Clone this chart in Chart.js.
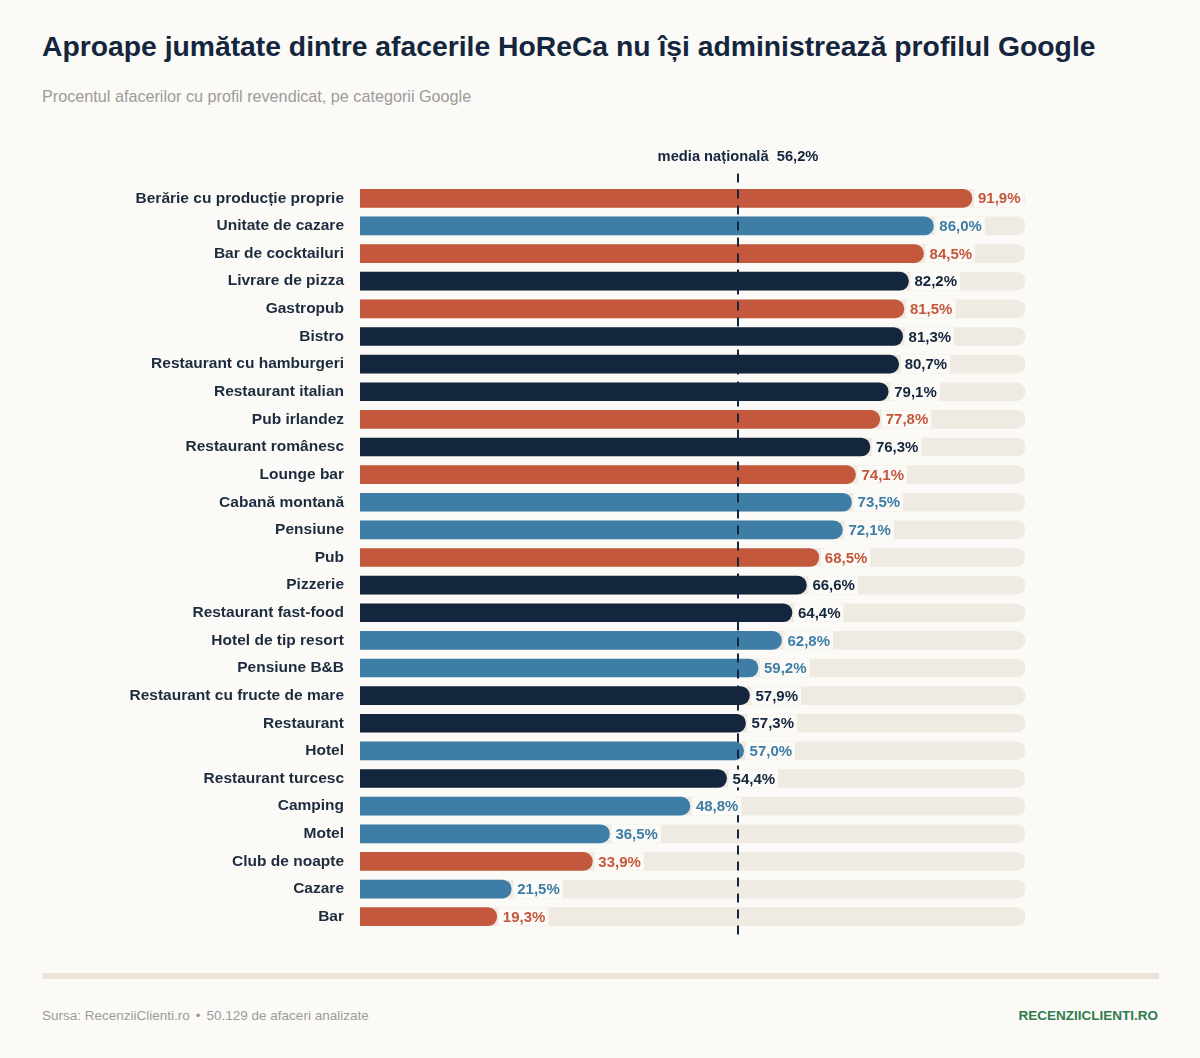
<!DOCTYPE html>
<html lang="ro">
<head>
<meta charset="utf-8">
<title>Profil Google HoReCa</title>
<script src="https://cdn.jsdelivr.net/npm/chart.js@4.4.1/dist/chart.umd.min.js"></script>
<style>
  html, body { margin: 0; padding: 0; background: #fbfaf6; }
  body {
    position: relative;
    width: 1200px;
    height: 1058px;
    overflow: hidden;
    font-family: "Liberation Sans", Arial, Helvetica, sans-serif;
  }
  h1 {
    position: absolute; left: 42px; top: 30px; margin: 0;
    font-size: 28.3px; font-weight: 700; color: #14263d; white-space: nowrap;
  }
  .sub {
    position: absolute; left: 42px; top: 87px;
    font-size: 16.2px; color: #9b9b9b; white-space: nowrap;
  }
  #wrap { position: absolute; left: 0; top: 130px; width: 1200px; height: 830px; }
  .rule { position: absolute; left: 42px; top: 973px; width: 1117px; height: 6px; background: #ebe5d9; }
  .foot { position: absolute; top: 1008px; font-size: 13.5px; white-space: nowrap; }
  .foot.left { left: 42px; color: #9b9b9b; }
  .foot.left .dot { margin: 0 6px; }
  .foot.right { right: 42px; color: #2f7a4f; font-weight: 700; }
</style>
</head>
<body>
<h1>Aproape jumătate dintre afacerile HoReCa nu își administrează profilul Google</h1>
<div class="sub">Procentul afacerilor cu profil revendicat, pe categorii Google</div>
<div id="wrap"><canvas id="chart" width="1200" height="830"></canvas></div>
<div class="rule"></div>
<div class="foot left">Sursa: RecenziiClienti.ro<span class="dot">•</span>50.129 de afaceri analizate</div>
<div class="foot right">RECENZIICLIENTI.RO</div>

<script>
// categorii Google, in ordinea din grafic
const categories = [
  'Berărie cu producție proprie', 'Unitate de cazare', 'Bar de cocktailuri',
  'Livrare de pizza', 'Gastropub', 'Bistro', 'Restaurant cu hamburgeri',
  'Restaurant italian', 'Pub irlandez', 'Restaurant românesc', 'Lounge bar',
  'Cabană montană', 'Pensiune', 'Pub', 'Pizzerie', 'Restaurant fast-food',
  'Hotel de tip resort', 'Pensiune B&B', 'Restaurant cu fructe de mare',
  'Restaurant', 'Hotel', 'Restaurant turcesc', 'Camping', 'Motel',
  'Club de noapte', 'Cazare', 'Bar'
];

// % afaceri cu profil revendicat
const claimed = [
  91.9, 86.0, 84.5, 82.2, 81.5, 81.3, 80.7, 79.1, 77.8, 76.3, 74.1, 73.5, 72.1,
  68.5, 66.6, 64.4, 62.8, 59.2, 57.9, 57.3, 57.0, 54.4, 48.8, 36.5, 33.9, 21.5, 19.3
];

// tip de afacere: bar / cazare / mancare
const groups = [
  'bar', 'cazare', 'bar', 'mancare', 'bar', 'mancare', 'mancare', 'mancare',
  'bar', 'mancare', 'bar', 'cazare', 'cazare', 'bar', 'mancare', 'mancare',
  'cazare', 'cazare', 'mancare', 'mancare', 'cazare', 'mancare', 'cazare',
  'cazare', 'bar', 'cazare', 'bar'
];

const nationalAverage = 56.2;
const trackMax = 100;

const groupColors = { bar: '#c4583d', cazare: '#3d7da6', mancare: '#14263d' };
const barColors = groups.map(g => groupColors[g]);
const trackValues = categories.map(() => trackMax);
const pageBg = '#fbfaf6';
const axisMin = -1.6; // bara porneste putin inainte de 0

const fmt = v => v.toFixed(1).replace('.', ',') + '%';
const FONT = '"Liberation Sans", Arial, Helvetica, sans-serif';

// linia mediei + etichetele valorilor
const overlayPlugin = {
  id: 'overlay',
  afterDatasetsDraw(chart) {
    const { ctx, chartArea, scales: { x } } = chart;
    const lx = Math.round(x.getPixelForValue(nationalAverage));

    ctx.save();
    ctx.strokeStyle = '#14263d';
    ctx.lineWidth = 2;
    ctx.setLineDash([9, 7]);
    ctx.beginPath();
    ctx.moveTo(lx, chartArea.top - 11);
    ctx.lineTo(lx, chartArea.bottom + 6);
    ctx.stroke();
    ctx.setLineDash([]);

    ctx.font = 'bold 14.7px ' + FONT;
    ctx.fillStyle = '#14263d';
    ctx.textAlign = 'center';
    ctx.textBaseline = 'alphabetic';
    ctx.fillText('media națională  ' + fmt(nationalAverage), lx, chartArea.top - 24);

    const meta = chart.getDatasetMeta(0);
    ctx.font = 'bold 15px ' + FONT;
    ctx.textAlign = 'left';
    ctx.textBaseline = 'middle';
    meta.data.forEach((bar, i) => {
      const txt = fmt(claimed[i]);
      const w = ctx.measureText(txt).width;
      const h = bar.height;
      ctx.fillStyle = pageBg;
      ctx.fillRect(bar.x + 2, bar.y - h / 2, w + 7, h);
      ctx.fillStyle = barColors[i];
      ctx.fillText(txt, bar.x + 6, bar.y + 1);
    });
    ctx.restore();
  }
};

new Chart(document.getElementById('chart'), {
  type: 'bar',
  data: {
    labels: categories,
    datasets: [
      {
        label: 'Profil revendicat',
        data: claimed,
        backgroundColor: barColors,
        base: axisMin,
        barThickness: 18,
        borderRadius: 9,
        grouped: false,
        order: 1
      },
      {
        label: 'Total',
        data: trackValues,
        backgroundColor: '#efebe2',
        base: axisMin,
        barThickness: 18,
        borderRadius: 9,
        grouped: false,
        order: 2
      }
    ]
  },
  options: {
    indexAxis: 'y',
    responsive: false,
    animation: false,
    layout: { padding: { left: 0, right: 175, top: 54.5, bottom: 29.5 } },
    plugins: {
      legend: { display: false },
      tooltip: { enabled: false }
    },
    scales: {
      x: { display: false, min: axisMin, max: trackMax },
      y: {
        grid: { display: false, drawTicks: false },
        border: { display: false },
        ticks: {
          autoSkip: false,
          padding: 16,
          color: '#1d2b3f',
          font: { family: FONT, size: 15.5, weight: 'bold' }
        },
        afterFit(scale) { scale.width = 360; }
      }
    }
  },
  plugins: [overlayPlugin]
});
</script>
</body>
</html>
